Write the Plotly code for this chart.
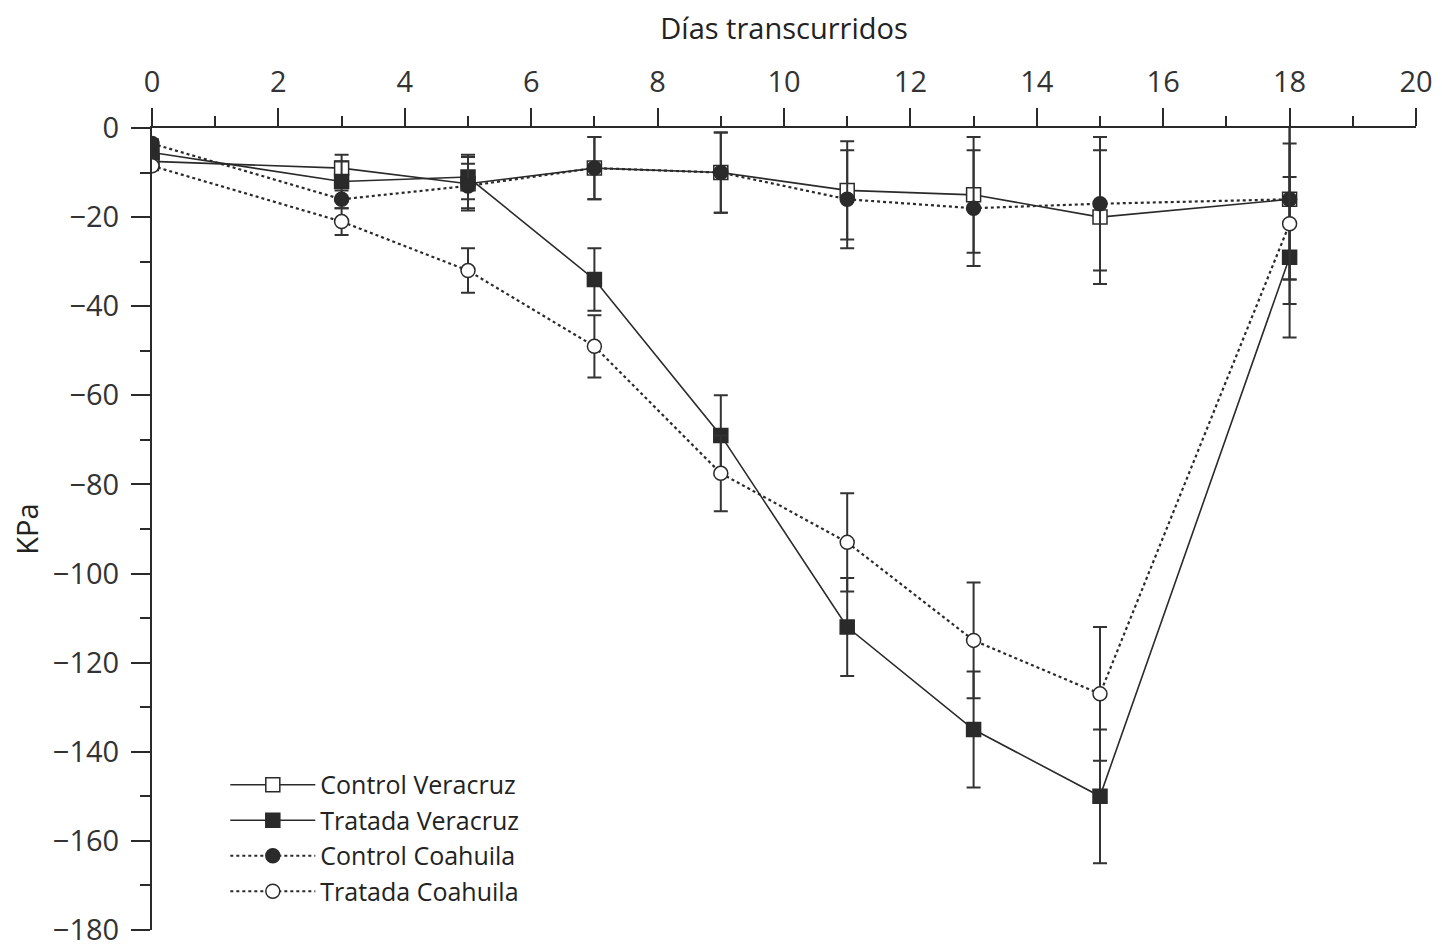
import plotly.graph_objects as go

days = [0, 3, 5, 7, 9, 11, 13, 15, 18]

control_veracruz = [-7.5, -9, -12.5, -9, -10, -14, -15, -20, -16]
control_veracruz_err = [1, 3, 6, 7, 9, 11, 13, 15, 18]

tratada_veracruz = [-5.5, -12, -11, -34, -69, -112, -135, -150, -29]
tratada_veracruz_err = [1, 4.5, 5, 7, 9, 11, 13, 15, 18]

control_coahuila = [-3.5, -16, -13, -9, -10, -16, -18, -17, -16]
control_coahuila_err = [1, 2, 5, 7, 9, 11, 13, 15, 18]

tratada_coahuila = [-8.5, -21, -32, -49, -77.5, -93, -115, -127, -21.5]
tratada_coahuila_err = [1, 3, 5, 7, 8.5, 11, 13, 15, 18]

x_ticks = [0, 2, 4, 6, 8, 10, 12, 14, 16, 18, 20]
y_ticks = [0, -20, -40, -60, -80, -100, -120, -140, -160, -180]

FONT = "Open Sans"
INK = "#2a2a2a"

series = [
    ("Control Veracruz", control_veracruz, control_veracruz_err, "square", "white", "solid", 1.6),
    ("Tratada Veracruz", tratada_veracruz, tratada_veracruz_err, "square", INK, "solid", 1.6),
    ("Control Coahuila", control_coahuila, control_coahuila_err, "circle", INK, "dot", 2.2),
    ("Tratada Coahuila", tratada_coahuila, tratada_coahuila_err, "circle", "white", "dot", 2.2),
]

fig = go.Figure()
for name, vals, err, sym, fill, dash, lw in series:
    fig.add_trace(go.Scatter(
        x=days, y=vals, name=name, mode="lines+markers",
        line=dict(color=INK, width=lw, dash=dash),
        marker=dict(symbol=sym, size=14, color=fill, line=dict(color=INK, width=1.5)),
        error_y=dict(type="data", array=err, symmetric=True, color="#333333",
                     thickness=2, width=7),
    ))

fig.update_layout(
    width=1442, height=952,
    margin=dict(l=152, r=26, t=128, b=22),
    plot_bgcolor="white", paper_bgcolor="white",
    font=dict(family=FONT, size=24, color="#333333"),
    showlegend=True,
    legend=dict(x=0.058, y=0.2095, xanchor="left", yanchor="top",
                bgcolor="rgba(0,0,0,0)", itemwidth=85,
                font=dict(family=FONT, size=25, color="#222222"),
                tracegroupgap=0),
    shapes=[dict(type="line", xref="paper", yref="paper", x0=-0.014, x1=0, y0=1, y1=1,
                 line=dict(color=INK, width=2))],
)

fig.update_xaxes(
    range=[0, 20], side="top", tickmode="array", tickvals=x_ticks,
    ticks="outside", ticklen=18, tickwidth=1.8, tickcolor=INK,
    minor=dict(dtick=1, tick0=0, ticks="outside", ticklen=10, tickwidth=1.8, tickcolor=INK),
    showline=True, linecolor=INK, linewidth=2, showgrid=False, zeroline=False,
    ticklabelstandoff=4, ticklabeloverflow="allow", automargin=False,
    title=dict(text="Días transcurridos", font=dict(size=29, color="#222222"), standoff=13),
    tickfont=dict(size=29, color="#333333"),
)
fig.update_yaxes(
    range=[-180, 0], tickmode="array", tickvals=y_ticks,
    ticks="outside", ticklen=19, tickwidth=1.8, tickcolor=INK,
    minor=dict(dtick=10, tick0=0, ticks="outside", ticklen=10, tickwidth=1.8, tickcolor=INK),
    showline=True, linecolor=INK, linewidth=2, showgrid=False, zeroline=False,
    ticklabelstandoff=6, ticklabeloverflow="allow", automargin=False,
    title=dict(text="KPa", font=dict(size=29, color="#222222"), standoff=6),
    tickfont=dict(size=29, color="#333333"),
)

fig.write_html("out.html")
